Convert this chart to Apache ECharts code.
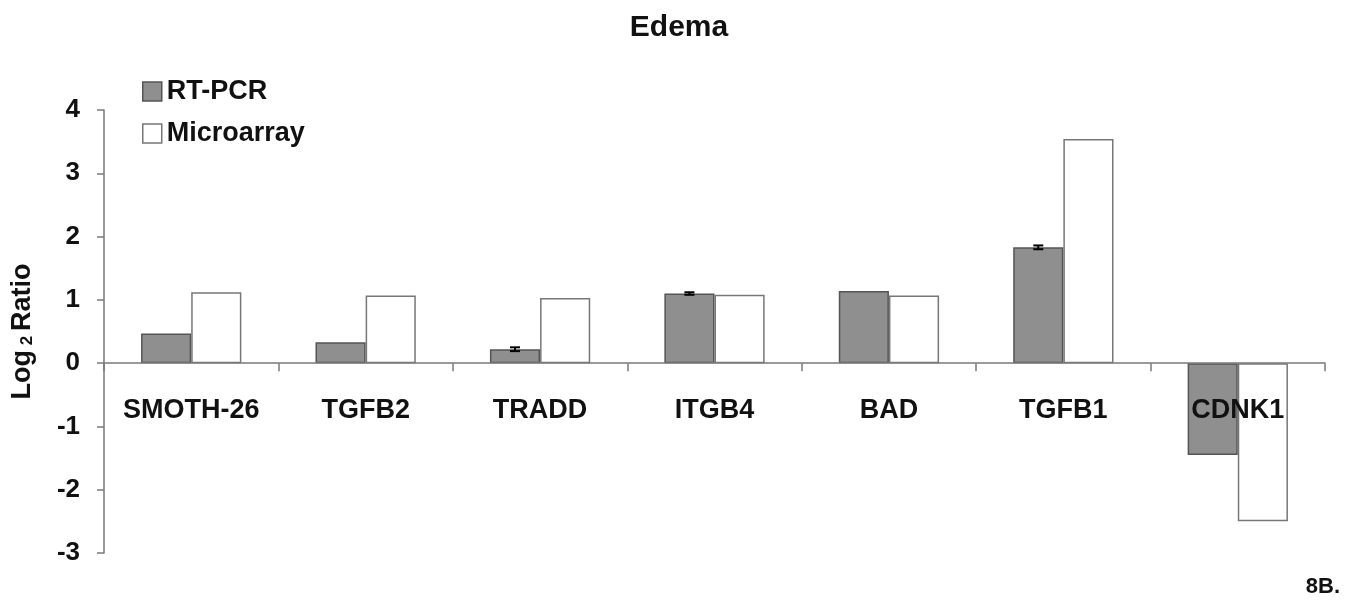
<!DOCTYPE html>
<html>
<head>
<meta charset="utf-8">
<script src="https://cdn.jsdelivr.net/npm/echarts@6/dist/echarts.min.js"></script>
<style>html,body{margin:0;padding:0;background:#fff;}#c{width:1358px;height:603px;}</style>
</head>
<body>
<div id="c"></div>
<script>
const categories = ['SMOTH-26', 'TGFB2', 'TRADD', 'ITGB4', 'BAD', 'TGFB1', 'CDNK1'];
const rtpcr = [0.47, 0.33, 0.22, 1.10, 1.14, 1.83, -1.45];
const rtpcrErr = [0, 0, 0.03, 0.02, 0, 0.03, 0];
const microarray = [1.12, 1.07, 1.03, 1.08, 1.07, 3.54, -2.50];
const yTicks = [-3, -2, -1, 0, 1, 2, 3, 4];
const yMin = -3, yMax = 4;

const FONT = 'Liberation Sans, Arial, sans-serif';
const GRID = {left: 104, right: 33, top: 110, bottom: 50};
const gridH = 603 - GRID.top - GRID.bottom;
const zeroOffset = -gridH * (0 - yMin) / (yMax - yMin);
const chart = echarts.init(document.getElementById('c'), null, {renderer: 'canvas'});
const gapRatio = 0.425;

chart.setOption({
  backgroundColor: '#fff',
  animation: false,
  title: {
    text: 'Edema', left: 'center', top: 8,
    textStyle: {fontFamily: FONT, fontSize: 30, fontWeight: 'bold', color: '#111'}
  },
  legend: {
    orient: 'vertical', left: 137, top: 73, itemWidth: 19, itemHeight: 19, itemGap: 15,
    icon: 'rect',
    textStyle: {fontFamily: FONT, fontSize: 27, fontWeight: 'bold', color: '#111', padding: [0, 0, 0, 0]},
    data: [
      {name: 'RT-PCR', itemStyle: {color: '#8f8f8f', borderColor: '#555', borderWidth: 1.5}},
      {name: 'Microarray', itemStyle: {color: '#fff', borderColor: '#777', borderWidth: 1.5}}
    ]
  },
  grid: GRID,
  xAxis: [{
    type: 'category', data: categories, z: 10,
    axisLine: {onZero: true, lineStyle: {color: '#7a7a7a', width: 1.5}},
    axisTick: {show: true, interval: 0, length: 8, inside: false, lineStyle: {color: '#7a7a7a', width: 1.5}},
    axisLabel: {show: false}
  }, {
    type: 'category', data: categories, position: 'bottom', offset: zeroOffset, z: 10,
    axisLine: {show: false, onZero: false}, axisTick: {show: false},
    axisLabel: {interval: 0, margin: 34, fontFamily: FONT, fontSize: 27, fontWeight: 'bold', color: '#111'}
  }],
  yAxis: {
    type: 'value', min: yMin, max: yMax, interval: 1,
    name: '{a|Log}{b| 2 }{a|Ratio}', nameLocation: 'middle', nameGap: 68, nameRotate: 90,
    nameTextStyle: {rich: {
      a: {fontFamily: FONT, fontSize: 27, fontWeight: 'bold', color: '#111'},
      b: {fontFamily: FONT, fontSize: 17, fontWeight: 'bold', color: '#111', verticalAlign: 'bottom', padding: [8, 0, 0, 0]}
    }},
    splitLine: {show: false},
    axisLine: {show: true, lineStyle: {color: '#7a7a7a', width: 1.5}},
    axisTick: {show: true, length: 7, lineStyle: {color: '#7a7a7a', width: 1.5}},
    axisLabel: {margin: 24, fontFamily: FONT, fontSize: 26, fontWeight: 'bold', color: '#111',
      formatter: v => yTicks.includes(v) ? String(v) : ''}
  },
  series: [
    {name: 'RT-PCR', type: 'bar', data: rtpcr, barGap: '0%', barCategoryGap: (gapRatio * 100) + '%',
      itemStyle: {color: '#8f8f8f', borderColor: '#555', borderWidth: 1.5}},
    {name: 'Microarray', type: 'bar', data: microarray,
      itemStyle: {color: '#fff', borderColor: '#777', borderWidth: 1.5}},
    {name: 'err', type: 'custom', z: 5,
      data: rtpcr.map((v, i) => [i, v, rtpcrErr[i]]),
      renderItem: function (params, api) {
        const e = api.value(2);
        if (!e) return null;
        const i = api.value(0), v = api.value(1);
        const band = api.size([1, 0])[0];
        const bw = band * (1 - gapRatio) / 2;
        const c = api.coord([i, v]);
        const x = c[0] - bw / 2;
        const top = api.coord([i, v + e])[1];
        const bot = api.coord([i, v - e])[1];
        return {type: 'group', children: [
          {type: 'line', shape: {x1: x, y1: top, x2: x, y2: bot}, style: {stroke: '#000', lineWidth: 2}},
          {type: 'line', shape: {x1: x - 5, y1: top, x2: x + 5, y2: top}, style: {stroke: '#000', lineWidth: 2}},
          {type: 'line', shape: {x1: x - 5, y1: bot, x2: x + 5, y2: bot}, style: {stroke: '#000', lineWidth: 2}}
        ]};
      }
    }
  ],
  graphic: [{
    type: 'text', right: 18, top: 576,
    style: {text: '8B.', fontFamily: FONT, fontSize: 22, fontWeight: 'bold', fill: '#111'}
  }]
});
</script>
</body>
</html>
